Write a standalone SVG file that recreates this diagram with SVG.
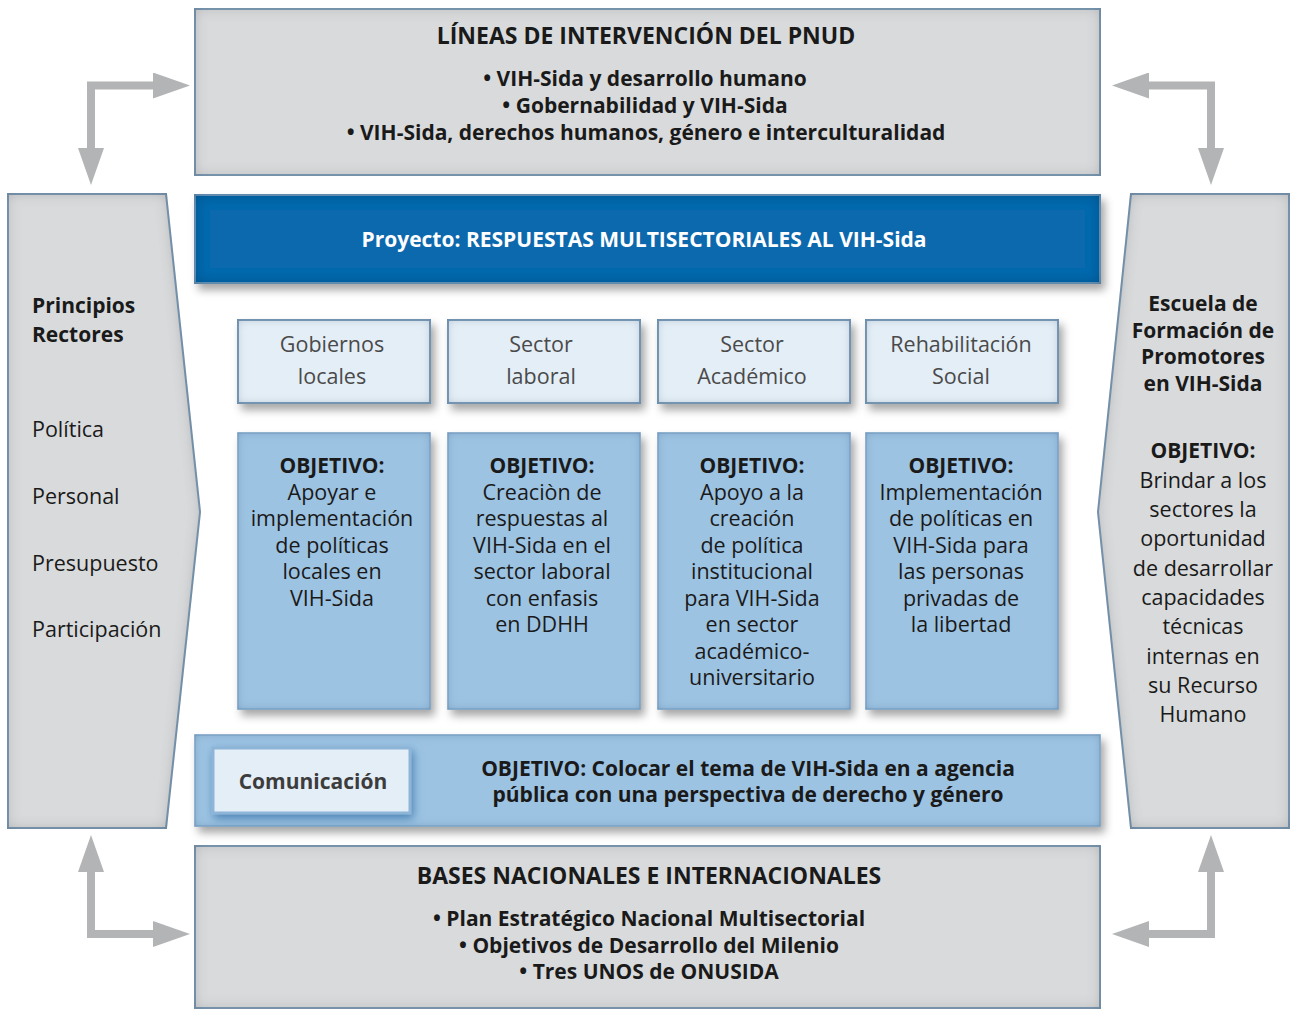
<svg xmlns="http://www.w3.org/2000/svg" width="1290" height="1010" viewBox="0 0 1290 1010">
<defs>
<style>
text{font-family:"Open Sans","Noto Sans","Liberation Sans",sans-serif;text-anchor:middle;fill:#1a1a1a}
.b{font-weight:700}
.grey{fill:#d9dadc;stroke:#7f9db8;stroke-width:2}
.blue{fill:#0a69ad;stroke:#6d9dc4;stroke-width:2}
.sec{fill:#e4eef6;stroke:#7f9db8;stroke-width:2}
.obj{fill:#9dc3e2;stroke:#86acd0;stroke-width:1.5}
.sect{font-size:21.5px;fill:#4a4a4a}
.ot{font-size:21.5px}
.ob{font-size:21px;font-weight:700}
.lt{font-size:21.5px;text-anchor:start}
.lb{font-size:21px;font-weight:700;text-anchor:start}
.bl{font-size:21px;font-weight:700}
.hd{font-size:23px;font-weight:700}
.conn{fill:none;stroke:#b3b4b6;stroke-width:8;marker-start:url(#ah);marker-end:url(#ah)}
</style>
<marker id="ah" viewBox="0 0 37 26" refX="0" refY="13" markerWidth="37" markerHeight="26" markerUnits="userSpaceOnUse" orient="auto-start-reverse">
<path d="M0,0 L37,13 L0,26 z" fill="#b3b4b6"/>
</marker>
<filter id="fx" x="-10%" y="-15%" width="125%" height="135%">
<feGaussianBlur in="SourceAlpha" stdDeviation="4" result="b1"/>
<feOffset in="b1" dx="4" dy="6" result="o1"/>
<feFlood flood-color="#000" flood-opacity="0.35"/>
<feComposite in2="o1" operator="in" result="ds"/>
<feFlood flood-color="#000" flood-opacity="0.5"/>
<feComposite in2="SourceAlpha" operator="out"/>
<feGaussianBlur stdDeviation="7"/>
<feComposite in2="SourceAlpha" operator="in" result="ins"/>
<feMerge><feMergeNode in="ds"/><feMergeNode in="SourceGraphic"/><feMergeNode in="ins"/></feMerge>
</filter>
<filter id="fi" x="-5%" y="-5%" width="110%" height="110%">
<feFlood flood-color="#000" flood-opacity="0.4"/>
<feComposite in2="SourceAlpha" operator="out"/>
<feGaussianBlur stdDeviation="7"/>
<feComposite in2="SourceAlpha" operator="in" result="ins"/>
<feMerge><feMergeNode in="SourceGraphic"/><feMergeNode in="ins"/></feMerge>
</filter>
<filter id="fs" x="-10%" y="-15%" width="125%" height="140%">
<feGaussianBlur in="SourceAlpha" stdDeviation="4" result="b1"/>
<feOffset in="b1" dx="4" dy="6" result="o1"/>
<feFlood flood-color="#000" flood-opacity="0.35"/>
<feComposite in2="o1" operator="in" result="ds"/>
<feFlood flood-color="#3c6e98" flood-opacity="0.5"/>
<feComposite in2="SourceAlpha" operator="out"/>
<feGaussianBlur stdDeviation="5"/>
<feComposite in2="SourceAlpha" operator="in" result="ins"/>
<feMerge><feMergeNode in="ds"/><feMergeNode in="SourceGraphic"/><feMergeNode in="ins"/></feMerge>
</filter>
<filter id="glow" x="-20%" y="-30%" width="140%" height="170%">
<feGaussianBlur in="SourceAlpha" stdDeviation="5" result="b1"/>
<feOffset in="b1" dx="2" dy="4" result="o1"/>
<feFlood flood-color="#2f6fa6" flood-opacity="0.75"/>
<feComposite in2="o1" operator="in" result="ds"/>
<feMerge><feMergeNode in="ds"/><feMergeNode in="SourceGraphic"/></feMerge>
</filter>
</defs>

<g id="connectors">
<path class="conn" d="M153,85.5 H91 V148"/>
<path class="conn" d="M1149,85.5 H1211 V148"/>
<path class="conn" d="M91,872 V934 H153"/>
<path class="conn" d="M1211,872 V934 H1149"/>
</g>

<g id="lineas">
<rect class="grey" x="195" y="9" width="905" height="166" filter="url(#fi)"/>
<text class="hd" x="646" y="44">LÍNEAS DE INTERVENCIÓN DEL PNUD</text>
<text class="bl" x="645" y="86">• VIH-Sida y desarrollo humano</text>
<text class="bl" x="645" y="113">• Gobernabilidad y VIH-Sida</text>
<text class="bl" x="646" y="140">• VIH-Sida, derechos humanos, género e interculturalidad</text>
</g>

<g id="principios">
<polygon class="grey" points="8,194 166,194 200,512 166,828 8,828" filter="url(#fi)"/>
<text class="lb" x="32" y="313">Principios</text>
<text class="lb" x="32" y="342">Rectores</text>
<text class="lt" x="32" y="437">Política</text>
<text class="lt" x="32" y="504">Personal</text>
<text class="lt" x="32" y="571">Presupuesto</text>
<text class="lt" x="32" y="637">Participación</text>
</g>

<g id="escuela">
<polygon class="grey" points="1131,194 1289,194 1289,828 1131,828 1098,512" filter="url(#fi)"/>
<text class="ob" x="1203" y="311">Escuela de</text>
<text class="ob" x="1203" y="338">Formación de</text>
<text class="ob" x="1203" y="364">Promotores</text>
<text class="ob" x="1203" y="391">en VIH-Sida</text>
<text class="ob" x="1203" y="458">OBJETIVO:</text>
<text class="ot" x="1203" y="488">Brindar a los</text>
<text class="ot" x="1203" y="517">sectores la</text>
<text class="ot" x="1203" y="546">oportunidad</text>
<text class="ot" x="1203" y="576">de desarrollar</text>
<text class="ot" x="1203" y="605">capacidades</text>
<text class="ot" x="1203" y="634">técnicas</text>
<text class="ot" x="1203" y="664">internas en</text>
<text class="ot" x="1203" y="693">su Recurso</text>
<text class="ot" x="1203" y="722">Humano</text>
</g>

<g id="proyecto">
<rect class="blue" x="195" y="195" width="905" height="88" filter="url(#fx)"/>
<text class="bl" x="644" y="247" style="fill:#ffffff">Proyecto: RESPUESTAS MULTISECTORIALES AL VIH-Sida</text>
</g>

<g id="sector1">
<rect class="sec" x="238" y="320" width="192" height="83" filter="url(#fs)"/>
<text class="sect" x="332" y="352">Gobiernos</text>
<text class="sect" x="332" y="384">locales</text>
</g>
<g id="sector2">
<rect class="sec" x="448" y="320" width="192" height="83" filter="url(#fs)"/>
<text class="sect" x="541" y="352">Sector</text>
<text class="sect" x="541" y="384">laboral</text>
</g>
<g id="sector3">
<rect class="sec" x="658" y="320" width="192" height="83" filter="url(#fs)"/>
<text class="sect" x="752" y="352">Sector</text>
<text class="sect" x="752" y="384">Académico</text>
</g>
<g id="sector4">
<rect class="sec" x="866" y="320" width="192" height="83" filter="url(#fs)"/>
<text class="sect" x="961" y="352">Rehabilitación</text>
<text class="sect" x="961" y="384">Social</text>
</g>

<g id="objetivo1">
<rect class="obj" x="238" y="433" width="192" height="276" filter="url(#fs)"/>
<text class="ob" x="332" y="473">OBJETIVO:</text>
<text class="ot" x="332" y="500">Apoyar e</text>
<text class="ot" x="332" y="526">implementación</text>
<text class="ot" x="332" y="553">de políticas</text>
<text class="ot" x="332" y="579">locales en</text>
<text class="ot" x="332" y="606">VIH-Sida</text>
</g>
<g id="objetivo2">
<rect class="obj" x="448" y="433" width="192" height="276" filter="url(#fs)"/>
<text class="ob" x="542" y="473">OBJETIVO:</text>
<text class="ot" x="542" y="500">Creaciòn de</text>
<text class="ot" x="542" y="526">respuestas al</text>
<text class="ot" x="542" y="553">VIH-Sida en el</text>
<text class="ot" x="542" y="579">sector laboral</text>
<text class="ot" x="542" y="606">con enfasis</text>
<text class="ot" x="542" y="632">en DDHH</text>
</g>
<g id="objetivo3">
<rect class="obj" x="658" y="433" width="192" height="276" filter="url(#fs)"/>
<text class="ob" x="752" y="473">OBJETIVO:</text>
<text class="ot" x="752" y="500">Apoyo a la</text>
<text class="ot" x="752" y="526">creación</text>
<text class="ot" x="752" y="553">de política</text>
<text class="ot" x="752" y="579">institucional</text>
<text class="ot" x="752" y="606">para VIH-Sida</text>
<text class="ot" x="752" y="632">en sector</text>
<text class="ot" x="752" y="659">académico-</text>
<text class="ot" x="752" y="685">universitario</text>
</g>
<g id="objetivo4">
<rect class="obj" x="866" y="433" width="192" height="276" filter="url(#fs)"/>
<text class="ob" x="961" y="473">OBJETIVO:</text>
<text class="ot" x="961" y="500">Implementación</text>
<text class="ot" x="961" y="526">de políticas en</text>
<text class="ot" x="961" y="553">VIH-Sida para</text>
<text class="ot" x="961" y="579">las personas</text>
<text class="ot" x="961" y="606">privadas de</text>
<text class="ot" x="961" y="632">la libertad</text>
</g>

<g id="comunicacion">
<rect class="obj" x="195" y="735" width="905" height="91" filter="url(#fs)"/>
<rect x="213" y="748" width="197" height="65" fill="#e4eef7" stroke="#8db5d8" stroke-width="3" filter="url(#glow)"/>
<text class="bl" x="313" y="789" style="fill:#3c3c3c">Comunicación</text>
<text class="bl" x="748" y="776">OBJETIVO: Colocar el tema de VIH-Sida en a agencia</text>
<text class="bl" x="748" y="802">pública con una perspectiva de derecho y género</text>
</g>

<g id="bases">
<rect class="grey" x="195" y="846" width="905" height="162" filter="url(#fi)"/>
<text class="hd" x="649" y="884">BASES NACIONALES E INTERNACIONALES</text>
<text class="bl" x="649" y="926">• Plan Estratégico Nacional Multisectorial</text>
<text class="bl" x="649" y="953">• Objetivos de Desarrollo del Milenio</text>
<text class="bl" x="649" y="979">• Tres UNOS de ONUSIDA</text>
</g>
</svg>
